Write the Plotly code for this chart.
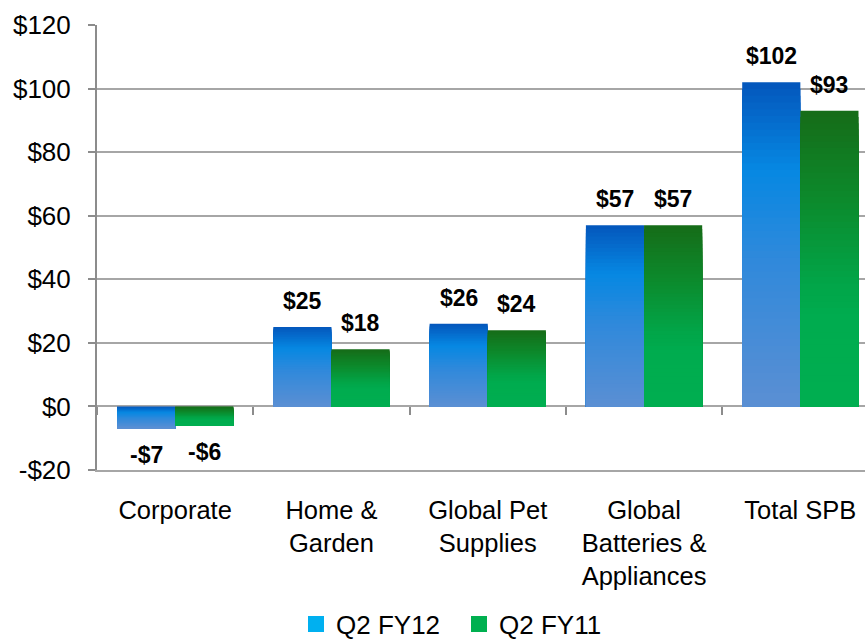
import plotly.graph_objects as go

# Segment results (USD millions)
categories = ["Corporate", "Home &<br>Garden", "Global Pet<br>Supplies",
              "Global<br>Batteries &<br>Appliances", "Total SPB"]
q2_fy12 = [-7, 25, 26, 57, 102]
q2_fy11 = [-6, 18, 24, 57, 93]
series_names = ["Q2 FY12", "Q2 FY11"]
legend_colors = ["#00B0F0", "#00B050"]
y_ticks = [-20, 0, 20, 40, 60, 80, 100, 120]

# vertical gradient stops (0 = top of bar, 1 = bottom of bar)
blue_stops = [(0.0, (0x04, 0x56, 0xBB)), (0.27, (0x06, 0x88, 0xE2)),
              (0.55, (0x30, 0x89, 0xDB)), (1.0, (0x5B, 0x8F, 0xD3))]
green_stops = [(0.0, (0x16, 0x6C, 0x18)), (0.30, (0x0C, 0x8A, 0x2C)),
               (0.58, (0x02, 0xA5, 0x48)), (0.7, (0x00, 0xAC, 0x4F)),
               (1.0, (0x00, 0xAE, 0x50))]

FONT = "Liberation Sans, Arial, sans-serif"
GRID = "#a6a6a6"
AXIS = "#8c8c8c"
N_STEPS = 48


def gradient_color(stops, t):
    for (t0, c0), (t1, c1) in zip(stops[:-1], stops[1:]):
        if t0 <= t <= t1:
            f = (t - t0) / (t1 - t0)
            rgb = [round(a + (b - a) * f) for a, b in zip(c0, c1)]
            return "rgb({},{},{})".format(*rgb)
    return "rgb({},{},{})".format(*stops[-1][1])


def money(v):
    return f"-${abs(v)}" if v < 0 else f"${v}"


fig = go.Figure()

# Each bar is layered from its full length down to shorter pieces so the
# colour shifts from dark at the top edge to light at the bottom edge.
for name, values, stops in [(series_names[0], q2_fy12, blue_stops),
                            (series_names[1], q2_fy11, green_stops)]:
    for k in range(N_STEPS):
        frac = k / N_STEPS
        fig.add_trace(go.Bar(
            x=categories,
            y=[v * (1 - frac) for v in values],
            base=[0 if v >= 0 else v * frac for v in values],
            offsetgroup=name,
            marker=dict(color=gradient_color(stops, (k + 0.5) / N_STEPS),
                        line=dict(width=0)),
            showlegend=False,
            hoverinfo="skip",
        ))

# legend swatches
for name, color in zip(series_names, legend_colors):
    fig.add_trace(go.Scatter(
        x=[None], y=[None], mode="markers", name=name,
        marker=dict(symbol="square", size=16, color=color),
    ))

# helper trace carrying the boundary tick marks on the zero line
fig.add_trace(go.Scatter(x=categories, y=[None] * len(categories),
                         xaxis="x2", showlegend=False, hoverinfo="skip"))

# value labels
for values, shift in [(q2_fy12, -29), (q2_fy11, 29)]:
    for i, v in enumerate(values):
        fig.add_annotation(
            x=i, y=v, xref="x", yref="y", text=money(v), showarrow=False,
            xshift=shift, yshift=26 if v >= 0 else -26, yanchor="middle",
            font=dict(family=FONT, size=23, color="#000000", weight="bold"),
        )

x_range = [-0.5, -0.5 + 768 / 156.3]
fig.update_layout(
    width=865, height=639,
    margin=dict(l=97, r=0, t=25, b=169),
    paper_bgcolor="white", plot_bgcolor="white",
    barmode="group", bargap=0.256, bargroupgap=0,
    font=dict(family=FONT, size=26, color="#000000"),
    xaxis=dict(
        type="category", categoryorder="array", categoryarray=categories,
        range=x_range, showgrid=False, zeroline=False,
        showline=True, linecolor=GRID, linewidth=2,
        ticks="", ticklabelstandoff=16,
        tickfont=dict(family=FONT, size=25.5, color="#000000"),
    ),
    xaxis2=dict(
        type="category", categoryorder="array", categoryarray=categories,
        range=x_range, overlaying="x", anchor="free",
        position=(0 - y_ticks[0]) / (y_ticks[-1] - y_ticks[0]),
        showgrid=False, zeroline=False, showline=False, showticklabels=False,
        ticks="outside", tickson="boundaries", ticklen=8, tickwidth=2,
        tickcolor=AXIS,
    ),
    yaxis=dict(
        range=[y_ticks[0], y_ticks[-1]], tickvals=y_ticks,
        ticktext=[money(v) for v in y_ticks],
        showgrid=True, gridcolor=GRID, gridwidth=2,
        zeroline=True, zerolinecolor=GRID, zerolinewidth=2,
        showline=True, linecolor=AXIS, linewidth=2,
        ticks="outside", ticklen=7, tickwidth=2, tickcolor=AXIS,
        ticklabelstandoff=12,
        tickfont=dict(family=FONT, size=26, color="#000000"),
    ),
    legend=dict(
        orientation="h", xref="container", yref="container",
        x=296 / 865, xanchor="left", y=15 / 639, yanchor="middle",
        font=dict(family=FONT, size=26, color="#000000"),
        entrywidth=118, entrywidthmode="pixels",
        bgcolor="rgba(0,0,0,0)",
    ),
)

fig.write_html("out.html")
